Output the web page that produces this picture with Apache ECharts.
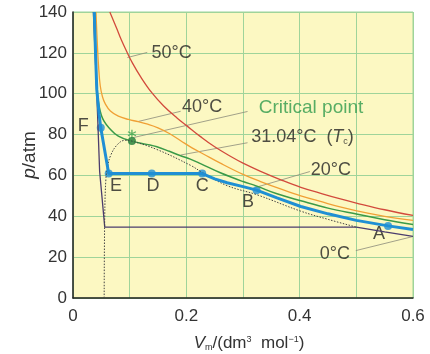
<!DOCTYPE html>
<html>
<head>
<meta charset="utf-8">
<script src="https://cdn.jsdelivr.net/npm/echarts@6/dist/echarts.min.js"></script>
<style>
  html, body { margin: 0; padding: 0; background: #fff; }
  #chart { width: 430px; height: 354px; }
</style>
</head>
<body>
<div id="chart"></div>
<script>
// CO2 isotherms, Vm in dm3/mol, p in atm
var iso50 = [[0.065,140],[0.077,132],[0.085,126.5],[0.095,120.5],[0.105,115],[0.12,108],[0.139,100.5],[0.16,94],[0.184,88],[0.2,84.5],[0.225,79],[0.25,74],[0.28,69],[0.3,66],[0.331,62],[0.37,57.5],[0.402,54.2],[0.44,51],[0.472,48.5],[0.5,46.5],[0.55,43.2],[0.6,40.4]];
var iso40 = [[0.0405,140],[0.043,124],[0.045,114],[0.048,104],[0.052,98.5],[0.057,95],[0.066,91.5],[0.08,89],[0.098,87.4],[0.115,86.3],[0.13,85.2],[0.15,83.3],[0.17,80.5],[0.19,77],[0.21,73.5],[0.23,70.5],[0.26,66],[0.3,60.5],[0.331,57],[0.37,53],[0.402,50],[0.44,47],[0.473,44.5],[0.52,41.5],[0.55,40],[0.6,38]];
var iso31 = [[0.0385,140],[0.04,120],[0.042,103],[0.046,94],[0.05,89.5],[0.055,86.5],[0.063,83.5],[0.08,79.2],[0.104,76.8],[0.13,75.2],[0.148,74],[0.17,71.8],[0.19,69.6],[0.207,68],[0.225,65.8],[0.26,61.3],[0.3,57],[0.322,55],[0.36,51],[0.402,47.6],[0.45,44],[0.502,41],[0.55,38.3],[0.6,36]];
var iso20 = [[0.0375,140],[0.04,118],[0.042,102],[0.046,90],[0.049,83.3],[0.063,60.9],[0.139,60.9],[0.228,60.9],[0.25,58.3],[0.272,56.4],[0.3,54.5],[0.324,52.8],[0.36,49],[0.402,44.8],[0.45,41.2],[0.5,38],[0.556,35.3],[0.6,33.5]];
var iso0 = [[0.036,140],[0.039,120],[0.042,100],[0.047,62],[0.056,34.7],[0.5,34.7],[0.55,32.4],[0.6,30.2]];
var coexist = [[0.055,0],[0.056,40],[0.058,58],[0.061,64],[0.066,69.5],[0.078,75],[0.092,77.2],[0.104,76.8],[0.148,72.7],[0.207,65],[0.228,61.5],[0.272,55],[0.325,50.5],[0.402,42.5],[0.45,38.5],[0.5,34.7]];

var pointNames = ['A', 'B', 'C', 'D', 'E', 'F'];
var pointValues = [[0.556,35.3],[0.324,52.8],[0.228,60.9],[0.139,60.9],[0.063,60.9],[0.049,83.3]];
var critical = [0.104, 76.8];

var yTicks = [0, 20, 40, 60, 80, 100, 120, 140];
var xTicks = [0, 0.2, 0.4, 0.6];

// label positions (data coords) and leader lines
var labelTexts = ['50°C', '40°C', 'Critical point', '31.04°C  ({i|T}{s|c})', '20°C', '0°C'];
var labelAt = [[0.174,119.7],[0.228,93.7],[0.42,93.2],[0.405,78.6],[0.455,62.4],[0.462,21.3]];
var leaders = [
  [[0.096,117.7],[0.131,120.2]],
  [[0.115,86.4],[0.19,91.4]],
  [[0.106,78.5],[0.308,91.3]],
  [[0.19,70],[0.308,76]],
  [[0.322,54.1],[0.418,61.9]],
  [[0.499,23.2],[0.6,30.1]]
];
var letterAt = [[0.54,31.2],[0.309,47.2],[0.228,54.6],[0.141,54.6],[0.076,54.6],[0.018,84]];

var font = 'Liberation Sans, Arial, sans-serif';
var gridGreen = '#9fd49a';

var chart = echarts.init(document.getElementById('chart'));

function curve(data, color, width, smooth) {
    return {
        type: 'line', data: data, showSymbol: false, symbol: 'none',
        smooth: smooth, silent: true,
        lineStyle: { color: color, width: width }
    };
}

var option = {
    animation: false,
    grid: {
        left: 73, right: 17, top: 12, bottom: 56,
        outerBoundsMode: 'none',
        show: true, backgroundColor: '#fcf8c2',
        borderColor: gridGreen, borderWidth: 1
    },
    xAxis: {
        type: 'value', min: 0, max: 0.6, interval: 0.2,
        axisLine: { show: true, onZero: false, lineStyle: { color: '#222', width: 1.5 } },
        axisTick: { show: false },
        minorTick: { show: false, splitNumber: 2 },
        splitLine: { show: true, lineStyle: { color: gridGreen, width: 1 } },
        minorSplitLine: { show: true, lineStyle: { color: gridGreen, width: 1 } },
        axisLabel: {
            margin: 10, fontSize: 17, color: '#333', fontFamily: font,
            formatter: function (v) { return xTicks.indexOf(+v.toFixed(1)) >= 0 ? String(+v.toFixed(1)) : ''; }
        },
        name: '{i|V}{s|m}/(dm{u|3}  mol{u|−1})',
        nameLocation: 'middle', nameGap: 37, nameMoveOverlap: false,
        nameTextStyle: {
            fontSize: 17, color: '#333', fontFamily: font, padding: [0, 0, 0, 12],
            rich: {
                i: { fontStyle: 'italic', fontSize: 17, fontFamily: font, color: '#333' },
                s: { fontSize: 9, fontFamily: font, color: '#333', verticalAlign: 'bottom', padding: [8, 0, 0, 0] },
                u: { fontSize: 9, fontFamily: font, color: '#333', verticalAlign: 'top', padding: [0, 0, 8, 0] }
            }
        }
    },
    yAxis: {
        type: 'value', min: 0, max: 140, interval: 20,
        axisLine: { show: true, lineStyle: { color: '#222', width: 1.5 } },
        axisTick: { show: false },
        splitLine: { show: true, lineStyle: { color: gridGreen, width: 1 } },
        axisLabel: {
            margin: 6, fontSize: 17, color: '#333', fontFamily: font,
            formatter: function (v) { return yTicks.indexOf(v) >= 0 ? String(v) : ''; }
        },
        name: '{i|p}/atm',
        nameLocation: 'middle', nameGap: 34, nameMoveOverlap: false,
        nameTextStyle: {
            fontSize: 19, color: '#333', fontFamily: font,
            rich: { i: { fontStyle: 'italic', fontSize: 19, fontFamily: font, color: '#333' } }
        }
    },
    series: [
        curve(iso50, '#d24a3c', 1.3, 0.4),
        curve(iso40, '#f0a035', 1.3, 0.4),
        curve(iso31, '#3a9a48', 1.5, 0.4),
        curve(iso0, '#4b3d6e', 1.3, false),
        {
            type: 'line', data: coexist, showSymbol: false, symbol: 'none', smooth: 0.4, silent: true,
            lineStyle: { color: '#444', width: 1, type: [1.5, 1.5] }
        },
        curve(iso20, '#1f8fd4', 3, false),
        {
            type: 'lines', coordinateSystem: 'cartesian2d', silent: true,
            data: leaders.map(function (l) { return { coords: l }; }),
            lineStyle: { color: '#8a8a7a', width: 0.8, opacity: 1 }
        },
        {
            type: 'scatter', symbolSize: 8, silent: true,
            itemStyle: { color: '#1f8fd4' },
            data: pointValues
        },
        {
            type: 'scatter', silent: true,
            data: [
                { value: [critical[0], critical[1] + 3.6], symbol: 'path://M0,-1L0,1M-0.87,-0.5L0.87,0.5M-0.87,0.5L0.87,-0.5', symbolSize: 8,
                  itemStyle: { color: 'none', borderColor: '#3aa04a', borderWidth: 1.3 } },
                { value: critical, symbolSize: 8, itemStyle: { color: '#1d7a34' } }
            ]
        },
        {
            type: 'scatter', symbolSize: 0, silent: true,
            label: {
                show: true, position: 'inside', formatter: '{b}',
                fontSize: 18, color: '#222', fontFamily: font,
                rich: {
                    i: { fontStyle: 'italic', fontSize: 18, fontFamily: font, color: '#222' },
                    s: { fontSize: 9, fontFamily: font, color: '#222', verticalAlign: 'bottom', padding: [9, 0, 0, 0] }
                }
            },
            data: labelTexts.map(function (t, i) {
                var d = { name: t, value: labelAt[i] };
                if (t === 'Critical point') d.label = { color: '#2e9a4c', fontSize: 19 };
                return d;
            }).concat(pointNames.map(function (n, i) {
                return { name: n, value: letterAt[i] };
            }))
        }
    ]
};

chart.setOption(option);
</script>
</body>
</html>
